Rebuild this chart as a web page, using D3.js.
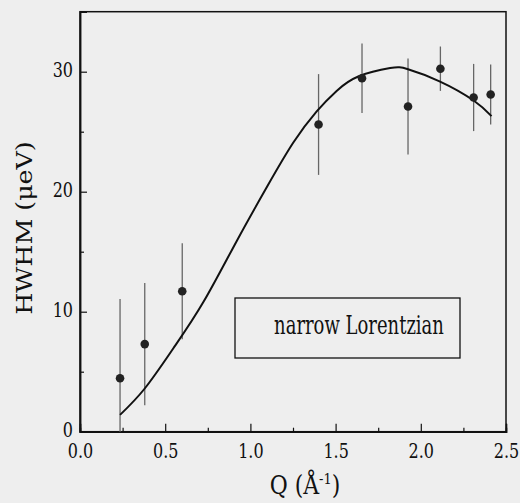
<!DOCTYPE html>
<html>
<head>
<meta charset="utf-8">
<script src="https://cdn.jsdelivr.net/npm/d3@7"></script>
<style>
  body { margin: 0; background: #eeeeee; }
  svg text { font-family: "DejaVu Serif", serif; }
</style>
</head>
<body>
<div id="chart"></div>
<script>
// measured points: Q (1/A), HWHM (ueV), error
const qPts = [0.235, 0.38, 0.60, 1.40, 1.655, 1.925, 2.115, 2.31, 2.41];
const hwhm = [4.45, 7.3, 11.7, 25.6, 29.45, 27.1, 30.25, 27.85, 28.1];
const errs = [6.6, 5.1, 4.0, 4.2, 2.9, 4.0, 1.85, 2.8, 2.5];

// fitted curve
const fitQ = [0.235, 0.38, 0.548, 0.724, 0.92, 1.105, 1.252, 1.389, 1.506, 1.633, 1.82, 1.925, 2.11, 2.31, 2.415];
const fitY = [1.4, 3.6, 6.95, 10.8, 15.9, 20.6, 24.1, 26.7, 28.4, 29.6, 30.3, 30.2, 29.2, 27.6, 26.3];

const xMajor = [0, 0.5, 1.0, 1.5, 2.0, 2.5];
const xMinor = [0.25, 0.75, 1.25, 1.75, 2.25];
const yMajor = [0, 10, 20, 30];
const yMinor = [5, 15, 25];

const width = 520, height = 503;
const margin = { top: 11.7, right: 14, bottom: 71.3, left: 80 };

const svg = d3.select("#chart").append("svg")
    .attr("width", width)
    .attr("height", height)
    .style("display", "block");

svg.append("rect").attr("width", width).attr("height", height).attr("fill", "#eeeeee");

const x = d3.scaleLinear().domain([0, 2.5]).range([margin.left, width - margin.right]);
const y = d3.scaleLinear().domain([0, 35]).range([height - margin.bottom, margin.top]);

// frame
svg.append("rect")
    .attr("x", x(0)).attr("y", y(35))
    .attr("width", x(2.5) - x(0)).attr("height", y(0) - y(35))
    .attr("fill", "none").attr("stroke", "#111").attr("stroke-width", 1.5);

// X axis
const gx = svg.append("g")
    .attr("transform", `translate(0, ${y(0)})`)
    .call(d3.axisBottom(x).tickValues(xMajor).tickSize(-8).tickFormat(d3.format(".1f")));
svg.append("g")
    .attr("transform", `translate(0, ${y(0)})`)
    .call(d3.axisBottom(x).tickValues(xMinor).tickSize(-4).tickFormat(""));

// Y axis
const gy = svg.append("g")
    .attr("transform", `translate(${x(0)}, 0)`)
    .call(d3.axisLeft(y).tickValues(yMajor).tickSize(-7).tickFormat(d3.format("d")));
svg.append("g")
    .attr("transform", `translate(${x(0)}, 0)`)
    .call(d3.axisLeft(y).tickValues(yMinor).tickSize(-4).tickFormat(""));

svg.selectAll("g").attr("font-family", null);
svg.selectAll(".domain").attr("stroke", "#111").attr("stroke-width", 1.5);
svg.selectAll(".tick line").attr("stroke", "#111").attr("stroke-width", 1.2);
svg.selectAll(".tick text")
    .attr("fill", "#111")
    .attr("font-size", "16px")
    .attr("x", 0).attr("y", 0).attr("dy", null);
gx.selectAll(".tick text").attr("transform", "translate(0, 26.5) scale(1, 1.28)");
gy.selectAll(".tick text").attr("transform", "translate(-7, 5) scale(1, 1.28)");

// error bars
const pts = qPts.map((q, i) => ({ q: q, v: hwhm[i], e: errs[i] }));
svg.selectAll("line.err")
    .data(pts)
    .enter()
    .append("line")
    .attr("class", "err")
    .attr("x1", d => x(d.q))
    .attr("x2", d => x(d.q))
    .attr("y1", d => y(Math.max(0, d.v - d.e)))
    .attr("y2", d => y(d.v + d.e))
    .attr("stroke", "#666")
    .attr("stroke-width", 1.3);

// fit line
const line = d3.line()
    .x(d => x(d[0]))
    .y(d => y(d[1]))
    .curve(d3.curveNatural);

svg.append("path")
    .datum(fitQ.map((q, i) => [q, fitY[i]]))
    .attr("fill", "none")
    .attr("stroke", "#111")
    .attr("stroke-width", 2)
    .attr("d", line);

// dots
svg.selectAll("circle")
    .data(pts)
    .enter()
    .append("circle")
    .attr("cx", d => x(d.q))
    .attr("cy", d => y(d.v))
    .attr("r", 4.3)
    .attr("fill", "#222");

// legend box
svg.append("rect")
    .attr("x", 235).attr("y", 298)
    .attr("width", 225).attr("height", 60)
    .attr("fill", "none")
    .attr("stroke", "#111")
    .attr("stroke-width", 1.3);

svg.append("text")
    .attr("transform", "translate(359, 334) scale(1, 1.45)")
    .attr("text-anchor", "middle")
    .attr("font-size", "18px")
    .attr("fill", "#111")
    .text("narrow Lorentzian");

// X axis title
const xt = svg.append("text")
    .attr("transform", "translate(305, 494) scale(1, 1.15)")
    .attr("text-anchor", "middle")
    .attr("font-size", "22px")
    .attr("fill", "#111");
xt.append("tspan").text("Q (Å");
xt.append("tspan").attr("font-size", "13px").attr("dy", "-9").text("-1");
xt.append("tspan").attr("dy", "9").text(")");

// Y axis title
svg.append("text")
    .attr("transform", "translate(32, 228) rotate(-90) scale(1.1, 1)")
    .attr("text-anchor", "middle")
    .attr("font-size", "23px")
    .attr("fill", "#111")
    .text("HWHM (μeV)");
</script>
</body>
</html>
